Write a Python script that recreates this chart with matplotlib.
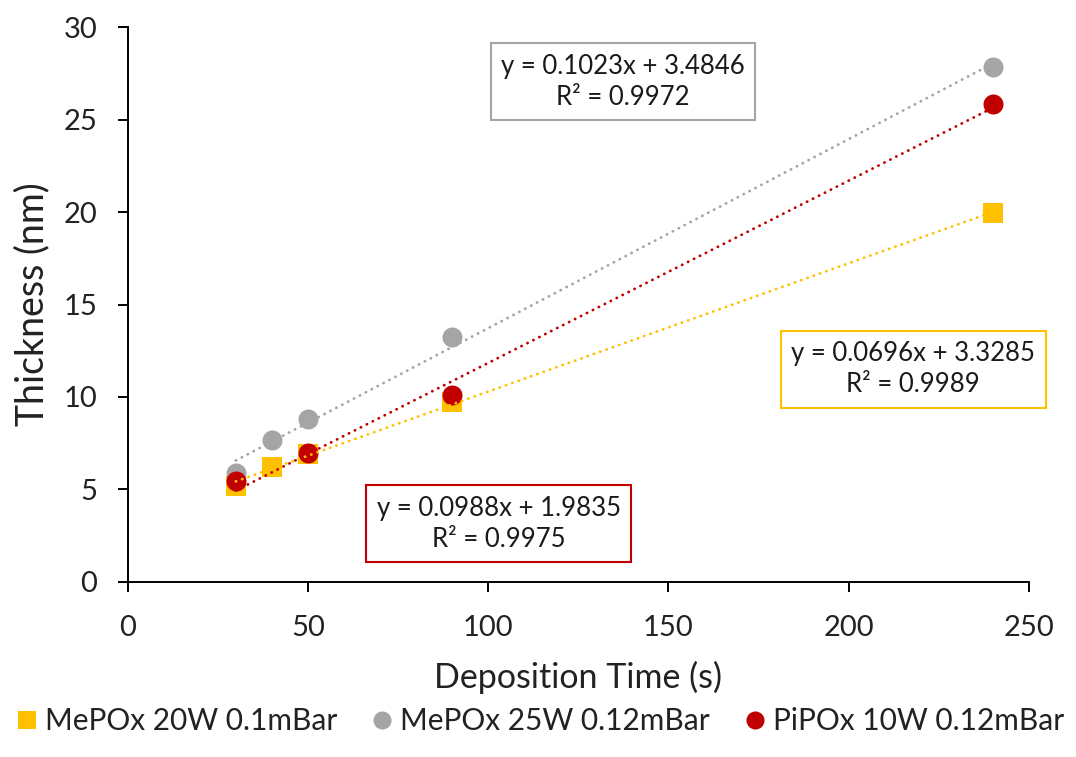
import numpy as np
import matplotlib.pyplot as plt
from matplotlib.lines import Line2D

plt.rcParams['font.family'] = ['Lato', 'DejaVu Sans']

# data
x_mepox20 = [30, 40, 50, 90, 240]
y_mepox20 = [5.2, 6.2, 6.9, 9.75, 19.95]

x_mepox25 = [30, 40, 50, 90, 240]
y_mepox25 = [5.9, 7.7, 8.8, 13.25, 27.85]

x_pipox10 = [30, 50, 90, 240]
y_pipox10 = [5.45, 6.95, 10.1, 25.85]

labels = ['MePOx 20W 0.1mBar', 'MePOx 25W 0.12mBar', 'PiPOx 10W 0.12mBar']
colors = ['#FFC000', '#A5A5A5', '#C00000']
markers = ['s', 'o', 'o']
equations = ['y = 0.0696x + 3.3285\nR² = 0.9989',
             'y = 0.1023x + 3.4846\nR² = 0.9972',
             'y = 0.0988x + 1.9835\nR² = 0.9975']
eq_pos = [(217.9, 11.5), (137.3, 27.05), (102.9, 3.15)]

fig = plt.figure(figsize=(10.76, 7.57), dpi=100)
ax = fig.add_axes([0.1187, 0.2312, 0.8376, 0.7331])

series = [(x_mepox20, y_mepox20), (x_mepox25, y_mepox25), (x_pipox10, y_pipox10)]

for (xs, ys), c, m in zip(series, colors, markers):
    ax.plot(xs, ys, linestyle='none', marker=m, color=c, markersize=14.4,
            markeredgewidth=0, zorder=2)

# linear trendlines over the markers, like excel
for (xs, ys), c in zip(series, colors):
    k, b = np.polyfit(xs, ys, 1)
    tx = np.array([min(xs), max(xs)])
    ax.plot(tx, k * tx + b, color=c, linewidth=2, linestyle=(0, (0.1, 2.3)),
            dash_capstyle='round', zorder=3)

for txt, (px, py), c in zip(equations, eq_pos, colors):
    ax.text(px, py, txt, ha='center', va='center', fontsize=18.5,
            linespacing=1.3, color='#1a1a1a', zorder=4,
            bbox=dict(boxstyle='square,pad=0.4', facecolor='white',
                      edgecolor=c, linewidth=1.5))

ax.set_xlim(0, 250)
ax.set_ylim(0, 30)
ax.set_xticks(np.arange(0, 251, 50))
ax.set_yticks(np.arange(0, 31, 5))
ax.spines['top'].set_visible(False)
ax.spines['right'].set_visible(False)
for s in ['left', 'bottom']:
    ax.spines[s].set_linewidth(1.4)
ax.tick_params(axis='both', direction='out', length=7, width=1.4,
               labelsize=21, colors='black', labelcolor='#222222', pad=15)
ax.tick_params(axis='x', pad=17)
ax.set_xlabel('Deposition Time (s)', fontsize=24.5, color='#222222', labelpad=14)
ax.set_ylabel('Thickness (nm)', fontsize=27, color='#222222', labelpad=9)

handles = [Line2D([], [], linestyle='none', marker=m, color=c, markersize=13,
                  markeredgewidth=0) for m, c in zip(markers, colors)]
fig.legend(handles, labels, loc='center', bbox_to_anchor=(0.5, 0.047), ncol=3,
           frameon=False, fontsize=21.5, handletextpad=0.1, columnspacing=1.0,
           handlelength=1.0, labelcolor='#222222')

fig.savefig('out.png', dpi=100)
